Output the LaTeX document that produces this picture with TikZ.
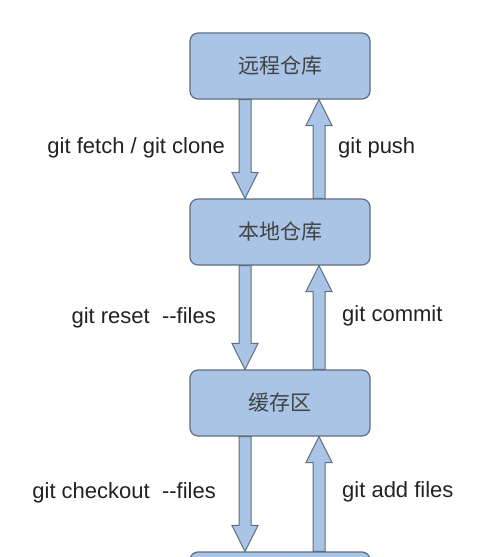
\documentclass[tikz,border=0pt]{standalone}
\usepackage{fontspec}
\setmainfont{Liberation Sans}
\newfontfamily\cjk{Noto Sans CJK SC}
\usetikzlibrary{calc}

\definecolor{boxfill}{HTML}{A9C4E4}
\definecolor{boxline}{HTML}{5E6E80}
\definecolor{labeltext}{HTML}{222222}

\tikzset{
    repobox/.style={draw=boxline, fill=boxfill, line width=1.2pt, rounded corners=8pt,
        minimum width=180pt, minimum height=66pt, inner sep=0pt,
        font=\cjk\fontsize{21}{24}\selectfont, text=labeltext!85},
    fatbody/.style={draw=boxline, fill=boxfill, line width=1pt, line join=miter},
    cmdlabel/.style={font=\fontsize{22}{26}\selectfont, text=labeltext, inner sep=0pt}
}

% fat vertical arrow from #1 to #2
\newcommand{\fatarrow}[2]{%
    \path (#1) coordinate (fa-s);
    \path (#2) coordinate (fa-e);
    \coordinate (fa-b) at ($(fa-e)!26pt!(fa-s)$);
    \filldraw[fatbody] ($(fa-s)+(-6pt,0)$) -- ($(fa-b)+(-6pt,0)$) -- ($(fa-b)+(-13pt,0)$)
        -- (fa-e) -- ($(fa-b)+(13pt,0)$) -- ($(fa-b)+(6pt,0)$) -- ($(fa-s)+(6pt,0)$) -- cycle;
}

\begin{document}
\begin{tikzpicture}[x=1pt, y=-1pt]
    \useasboundingbox (0, 0) rectangle (487, 557);
    \clip (0, 0) rectangle (487, 557);
    \fill[white] (0, 0) rectangle (487, 557);

    \node[repobox] (remote) at (280, 66) {远程仓库};
    \node[repobox] (local)  at (280, 232) {本地仓库};
    \node[repobox] (stage)  at (280, 403) {缓存区};
    \node[repobox] (work)   at (280, 585) {};

    \coordinate (xdown) at (245, 0);
    \coordinate (xup) at (319, 0);

    \fatarrow{remote.south -| xdown}{local.north -| xdown}
    \fatarrow{local.north -| xup}{remote.south -| xup}
    \fatarrow{local.south -| xdown}{stage.north -| xdown}
    \fatarrow{stage.north -| xup}{local.south -| xup}
    \fatarrow{stage.south -| xdown}{work.north -| xdown}
    \fatarrow{work.north -| xup}{stage.south -| xup}

    \node[cmdlabel, anchor=base east] (fetch)    at (225, 153) {git fetch / git clone};
    \node[cmdlabel, anchor=base west] (push)     at (338, 153) {git push};
    \node[cmdlabel, anchor=base east] (reset)    at (216, 323) {git reset\ \ -{}-files};
    \node[cmdlabel, anchor=base west] (commit)   at (342, 321) {git commit};
    \node[cmdlabel, anchor=base east] (checkout) at (216, 498) {git checkout\ \ -{}-files};
    \node[cmdlabel, anchor=base west] (add)      at (342, 497) {git add files};
\end{tikzpicture}
\end{document}
